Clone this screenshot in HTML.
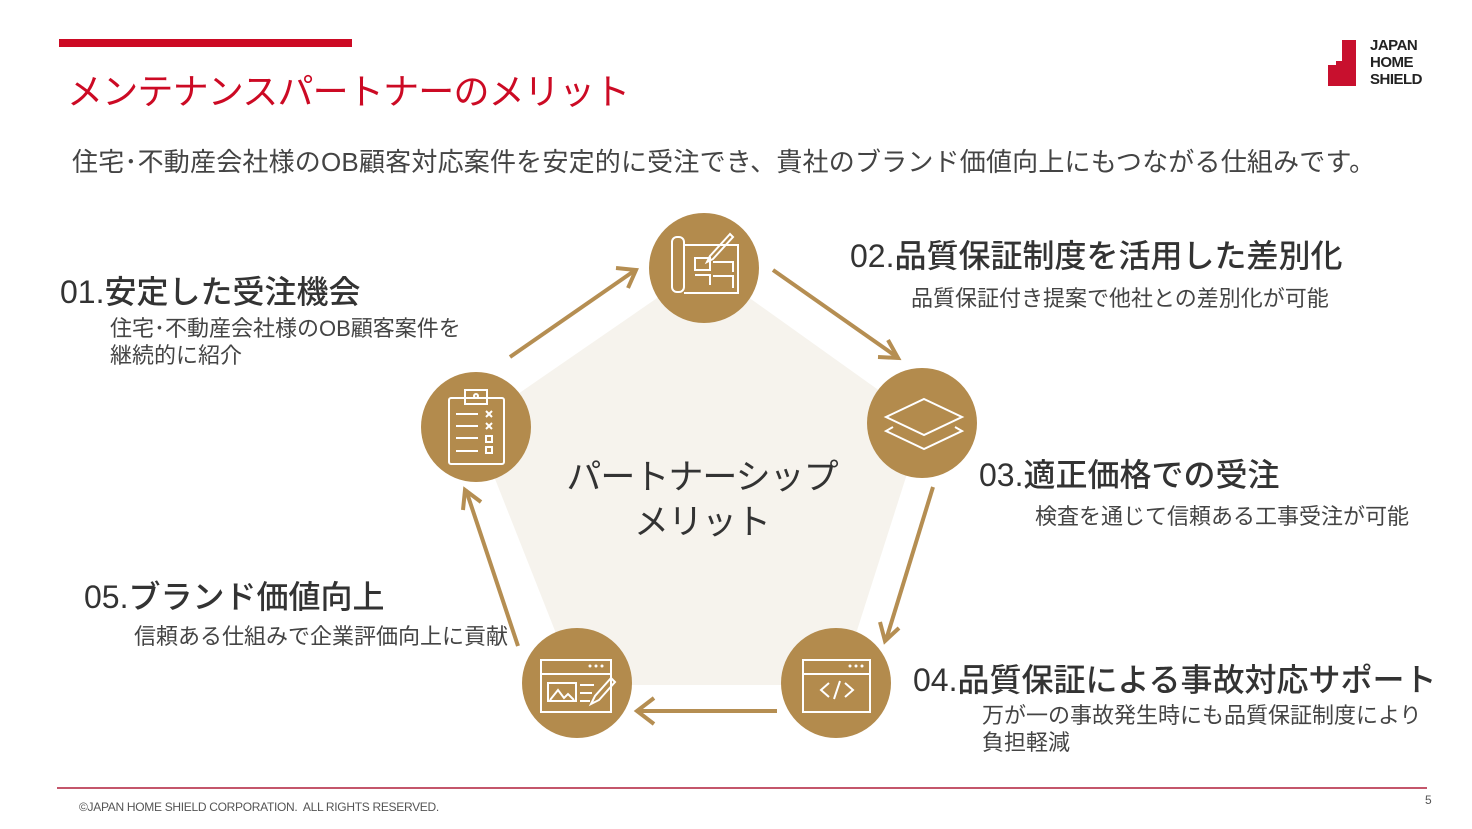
<!DOCTYPE html>
<html><head><meta charset="utf-8"><style>
body{margin:0;width:1472px;height:829px;background:#fff;position:relative;overflow:hidden;font-family:"Liberation Sans","Noto Sans CJK JP",sans-serif;color:#333}
.a{position:absolute;white-space:nowrap}
.h{font-size:32px;font-weight:500;color:#333}
.d{font-size:22px;line-height:27px;color:#444}
</style></head><body>
<div class="a" style="left:59px;top:39px;width:293px;height:8px;background:#cc0a24"></div>
<div class="a" style="left:67px;top:63px;font-size:36px;color:#cc0a24;letter-spacing:-0.8px">メンテナンスパートナーのメリット</div>
<div class="a" style="left:72px;top:142px;font-size:26px;color:#444;letter-spacing:0.2px">住宅･不動産会社様のOB顧客対応案件を安定的に受注でき、貴社のブランド価値向上にもつながる仕組みです。</div>
<!-- logo -->
<svg class="a" style="left:1326px;top:38px" width="50" height="50"><path d="M16 2h14v46H2V27h8v-4h6z" fill="#c8102e"/></svg>
<div class="a" style="left:1370px;top:37px;font-size:15px;line-height:17px;font-weight:bold;color:#222;letter-spacing:-0.5px">JAPAN<br>HOME<br>SHIELD</div>

<svg class="a" style="left:0;top:0" width="1472" height="829">
<polygon points="704,290 900,430 825,665 590,665 498,432" fill="#f6f3ed" stroke="#f6f3ed" stroke-width="40" stroke-linejoin="round"/>
<g stroke="#b58e52" stroke-width="4" fill="none">
<line x1="510" y1="357" x2="634" y2="271"/><path d="M616 268L636 270L628 288"/>
<line x1="773" y1="270" x2="897" y2="357"/><path d="M888 340L898 358L878 357"/>
<line x1="933" y1="487" x2="886" y2="640"/><path d="M880 622L885 641L899 628"/>
<line x1="777" y1="711" x2="638" y2="711"/><path d="M654 698L637 711L654 724"/>
<line x1="518" y1="646" x2="466" y2="490"/><path d="M463 510L465 490L481 502"/>
</g>
<g fill="#b38b4d"><circle cx="704" cy="268" r="55"/><circle cx="922" cy="423" r="55"/><circle cx="836" cy="683" r="55"/><circle cx="577" cy="683" r="55"/><circle cx="476" cy="427" r="55"/></g>
<g stroke="#fff" stroke-width="2" fill="none">
<rect x="672" y="237" width="12" height="55" rx="5"/><path d="M684 245h54v48h-54M695 258h15v12h-15zM713 262h20v10M695 275h15v10M713 276h20v12"/><path d="M730 234l-20 22-3 6 6-3 20-22z"/>
<path d="M924 399l38 18-38 18-38-18z"/><path d="M893 427l-7 4 38 18 38-18-7-4"/>
<rect x="803" y="660" width="67" height="52"/><path d="M803 674h67"/><path d="M829 683l-8 7 8 7M845 683l8 7-8 7M840 681l-6 18"/>
<rect x="541" y="660" width="70" height="52"/><path d="M541 674h70M548 683h28v18h-28zM580 685h14M580 693h12M580 701h10"/><path d="M550 700l8-10 6 8 4-4 6 6"/><path d="M611 678l-16 18-4 8 8-4 16-18z"/>
<rect x="449" y="398" width="55" height="66" rx="2"/><rect x="465" y="390" width="22" height="14"/><circle cx="476" cy="396" r="2"/><path d="M456 414h22M456 426h22M456 438h22M456 451h22M486 411l6 6M492 411l-6 6M486 423l6 6M492 423l-6 6"/><rect x="486" y="436" width="6" height="6"/><rect x="486" y="447" width="6" height="6"/>
</g>
<g fill="#fff"><circle cx="850" cy="666" r="1.5"/><circle cx="856" cy="666" r="1.5"/><circle cx="862" cy="666" r="1.5"/><circle cx="590" cy="666" r="1.5"/><circle cx="596" cy="666" r="1.5"/><circle cx="602" cy="666" r="1.5"/></g>
<line x1="57" y1="788" x2="1427" y2="788" stroke="#b01e3a" stroke-width="1.5"/>
</svg>

<div class="a" style="left:552px;top:455px;width:300px;text-align:center;font-size:35px;line-height:45px;color:#333;letter-spacing:-1px">パートナーシップ<br>メリット</div>

<div class="a h" style="left:60px;top:267px">01.安定した受注機会</div>
<div class="a d" style="left:110px;top:315px">住宅･不動産会社様のOB顧客案件を<br>継続的に紹介</div>
<div class="a h" style="left:850px;top:231px">02.品質保証制度を活用した差別化</div>
<div class="a d" style="left:911px;top:285px">品質保証付き提案で他社との差別化が可能</div>
<div class="a h" style="left:979px;top:450px">03.適正価格での受注</div>
<div class="a d" style="left:1035px;top:503px">検査を通じて信頼ある工事受注が可能</div>
<div class="a h" style="left:913px;top:655px">04.品質保証による事故対応サポート</div>
<div class="a d" style="left:982px;top:702px">万が一の事故発生時にも品質保証制度により<br>負担軽減</div>
<div class="a h" style="left:84px;top:572px">05.ブランド価値向上</div>
<div class="a d" style="left:134px;top:623px">信頼ある仕組みで企業評価向上に貢献</div>

<div class="a" style="left:79px;top:800px;font-size:12px;color:#555;letter-spacing:-0.3px">©JAPAN HOME SHIELD CORPORATION.&nbsp; ALL RIGHTS RESERVED.</div>
<div class="a" style="left:1425px;top:793px;font-size:12px;color:#555">5</div>
</body></html>
